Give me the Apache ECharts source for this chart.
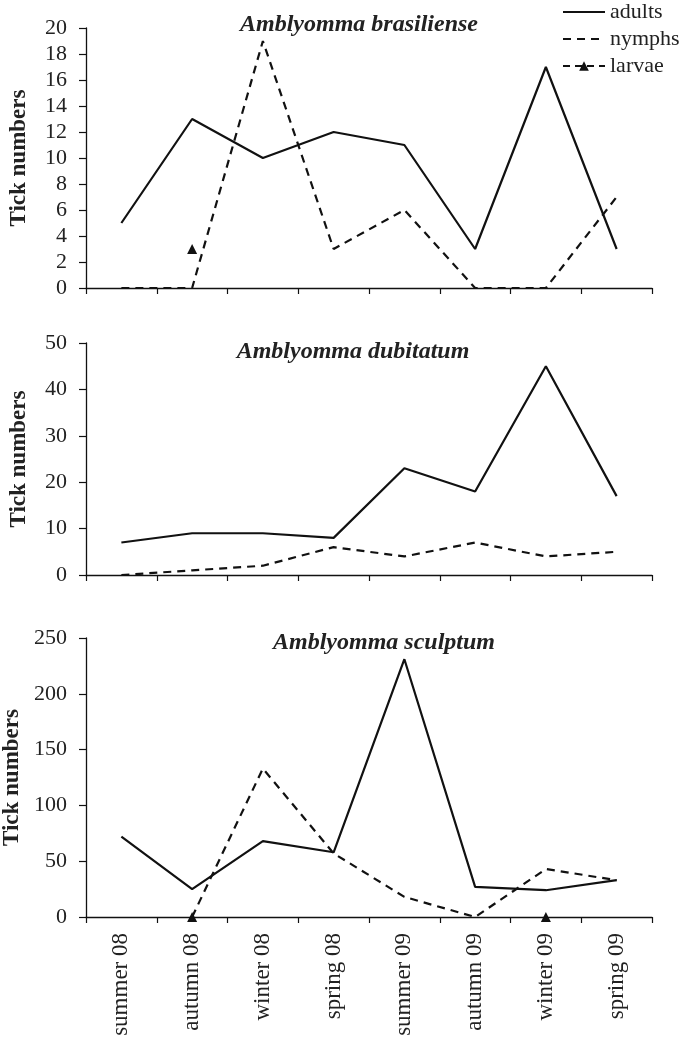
<!DOCTYPE html>
<html><head><meta charset="utf-8">
<script src="https://cdn.jsdelivr.net/npm/echarts@6/dist/echarts.min.js"></script>
<style>html,body{margin:0;padding:0;background:#fff}#c{width:684px;height:1044px}</style>
</head><body><div id="c"></div>
<script>
const categories = ['summer 08','autumn 08','winter 08','spring 08','summer 09','autumn 09','winter 09','spring 09'];
const titles = ['Amblyomma brasiliense','Amblyomma dubitatum','Amblyomma sculptum'];
const yMax = [20, 50, 250];
const yInterval = [2, 10, 50];
const brasAdults = [5,13,10,12,11,3,17,3];
const brasNymphs = [0,0,19,3,6,0,0,7];
const brasLarvae = [null,3,null,null,null,null,null,null];
const dubiAdults = [7,9,9,8,23,18,45,17];
const dubiNymphs = [0,1,2,6,4,7,4,5];
const sculAdults = [72,25,68,58,231,27,24,33];
const sculNymphs = [null,0,133,57,18,0,43,33];
const sculLarvae = [null,0,null,null,null,null,0,null];

const FONT = 'Liberation Serif';
const grids = [
  {left:86, right:32, top:28, height:260, containLabel:false, outerBoundsMode:'none'},
  {left:86, right:32, top:343, height:232, containLabel:false, outerBoundsMode:'none'},
  {left:86, right:32, top:638, height:279, containLabel:false, outerBoundsMode:'none'}
];
const titlePos = [
  {left:354, top:8},
  {left:348, top:335},
  {left:379, top:626}
];
const chart = echarts.init(document.getElementById('c'), null, {renderer:'canvas'});
const xAxes = grids.map((g,i)=>({
  type:'category', gridIndex:i, data:categories, boundaryGap:true,
  axisLine:{lineStyle:{color:'#111', width:1.3}},
  axisTick:{show:true, length:6, lineStyle:{color:'#111', width:1.2}},
  axisLabel:{show:i===2, interval:0, rotate:90, fontFamily:FONT, fontSize:23, color:'#222', margin:16}
}));
const yAxes = grids.map((g,i)=>({
  type:'value', gridIndex:i, min:0, max:yMax[i], interval:yInterval[i],
  name:'Tick numbers', nameLocation:'middle', nameGap:55,
  nameTextStyle:{fontFamily:FONT, fontSize:23, fontWeight:'bold', color:'#222'},
  axisLine:{show:true, lineStyle:{color:'#111', width:1.3}},
  axisTick:{show:true, length:7, lineStyle:{color:'#111', width:1.2}},
  splitLine:{show:false},
  axisLabel:{fontFamily:FONT, fontSize:22, color:'#222', margin:19}
}));
function adults(data, i){return {name:'adults', type:'line', xAxisIndex:i, yAxisIndex:i, data, symbol:'none', lineStyle:{color:'#111', width:2.2, type:'solid'}, itemStyle:{color:'#111'}};}
function nymphs(data, i){return {name:'nymphs', type:'line', xAxisIndex:i, yAxisIndex:i, data, symbol:'none', lineStyle:{color:'#111', width:2.2, type:[8,6]}, itemStyle:{color:'#111'}};}
function larvae(data, i){return {name:'larvae', type:'line', xAxisIndex:i, yAxisIndex:i, data, symbol:'triangle', symbolSize:10, showSymbol:true, lineStyle:{color:'#111', width:3.5, type:[7,5]}, itemStyle:{color:'#111'}};}
const hidden = {color:'rgba(0,0,0,0)', borderColor:'rgba(0,0,0,0)', borderWidth:0};
chart.setOption({
  animation:false,
  backgroundColor:'#fff',
  title: titles.map((t,i)=>({text:t, left:titlePos[i].left, top:titlePos[i].top, textAlign:'center',
    textStyle:{fontFamily:FONT, fontSize:24, fontWeight:'bold', fontStyle:'italic', color:'#222'}})),
  legend:{data:[{name:'adults', itemStyle:hidden},{name:'nymphs', itemStyle:hidden},{name:'larvae'}],
    orient:'vertical', left:562, top:1, padding:0, itemWidth:42, itemHeight:12, itemGap:5,
    textStyle:{fontFamily:FONT, fontSize:22, lineHeight:22, color:'#222'}},
  grid: grids,
  xAxis: xAxes,
  yAxis: yAxes,
  series:[
    adults(brasAdults,0), nymphs(brasNymphs,0), larvae(brasLarvae,0),
    adults(dubiAdults,1), nymphs(dubiNymphs,1),
    adults(sculAdults,2), nymphs(sculNymphs,2), larvae(sculLarvae,2)
  ]
});
</script></body></html>
